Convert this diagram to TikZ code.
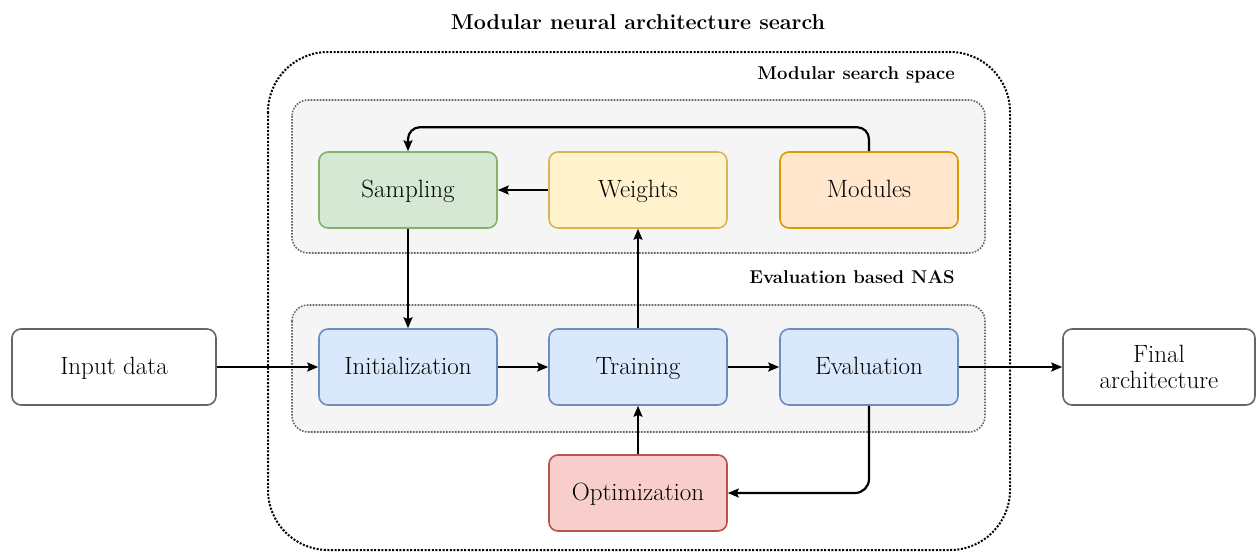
\documentclass[tikz,border=0pt]{standalone}
\usepackage{fontspec}
\usetikzlibrary{arrows.meta}
\definecolor{grnF}{HTML}{D5E8D4}\definecolor{grnD}{HTML}{82B366}
\definecolor{yelF}{HTML}{FFF2CC}\definecolor{yelD}{HTML}{D6B656}
\definecolor{ornF}{HTML}{FFE6CC}\definecolor{ornD}{HTML}{D79B00}
\definecolor{bluF}{HTML}{DAE8FC}\definecolor{bluD}{HTML}{6C8EBF}
\definecolor{redF}{HTML}{F8CECC}\definecolor{redD}{HTML}{B85450}
\definecolor{gryF}{HTML}{F5F5F5}\definecolor{gryD}{HTML}{666666}
\tikzset{
  blk/.style={draw, rounded corners=9pt, line width=1.6pt, minimum width=178pt,
    minimum height=76pt, align=center, inner sep=2pt,
    font=\fontsize{25}{28}\selectfont},
  one/.style={text height=19pt, text depth=4pt},
  grp/.style={draw=gryD, fill=gryF, line width=1.6pt, rounded corners=16pt,
    dash pattern=on 1.6pt off 1.4pt},
  lbl/.style={font=\fontsize{18.5}{22}\bfseries\selectfont, inner sep=0pt},
  arr/.style={line width=2.2pt, -{Stealth[length=11pt,width=9pt,inset=2pt]}},
}
\begin{document}
\begin{tikzpicture}[x=1pt,y=-1pt]
\useasboundingbox (0,0) rectangle (1256,552);
% frames
\draw[line width=2pt, dash pattern=on 2pt off 1.6pt, rounded corners=60pt]
  (268,52) rectangle (1010,550);
\draw[grp] (292,100) rectangle (985,253);
\draw[grp] (292,305) rectangle (985,432);
% frame titles
\node[lbl, font=\fontsize{21.5}{25}\bfseries\selectfont] (ttl) at (638,22) {Modular neural architecture search};
\node[lbl, anchor=east] (sst) at (955,75) {Modular search space};
\node[lbl, anchor=east] (evt) at (955,277) {Evaluation based NAS};
% blocks
\node[blk, one, fill=grnF, draw=grnD] (smp) at (408,190) {Sampling};
\node[blk, one, fill=yelF, draw=yelD] (wgt) at (638,190) {Weights};
\node[blk, one, fill=ornF, draw=ornD] (mod) at (869,190) {Modules};
\node[blk, one, fill=bluF, draw=bluD] (ini) at (408,367) {Initialization};
\node[blk, one, fill=bluF, draw=bluD] (trn) at (638,367) {Training};
\node[blk, one, fill=bluF, draw=bluD] (evl) at (869,367) {Evaluation};
\node[blk, one, fill=redF, draw=redD] (opt) at (638,493) {Optimization};
\node[blk, one, fill=white, draw=gryD, minimum width=204pt] (inp) at (114,367) {Input data};
\node[blk, fill=white, draw=gryD, minimum width=192pt] (fin) at (1159,367) {Final\\[-2pt]architecture};
% connectors
\draw[arr, rounded corners=12pt] (mod.north) -- ++(0,-24) -| (smp.north);
\draw[arr] (wgt.west) -- (smp.east);
\draw[arr] (smp.south) -- (ini.north);
\draw[arr] (trn.north) -- (wgt.south);
\draw[arr] (inp.east) -- (ini.west);
\draw[arr] (ini.east) -- (trn.west);
\draw[arr] (trn.east) -- (evl.west);
\draw[arr] (evl.east) -- (fin.west);
\draw[arr, rounded corners=14pt] (evl.south) |- (opt.east);
\draw[arr] (opt.north) -- (trn.south);
\end{tikzpicture}
\end{document}
